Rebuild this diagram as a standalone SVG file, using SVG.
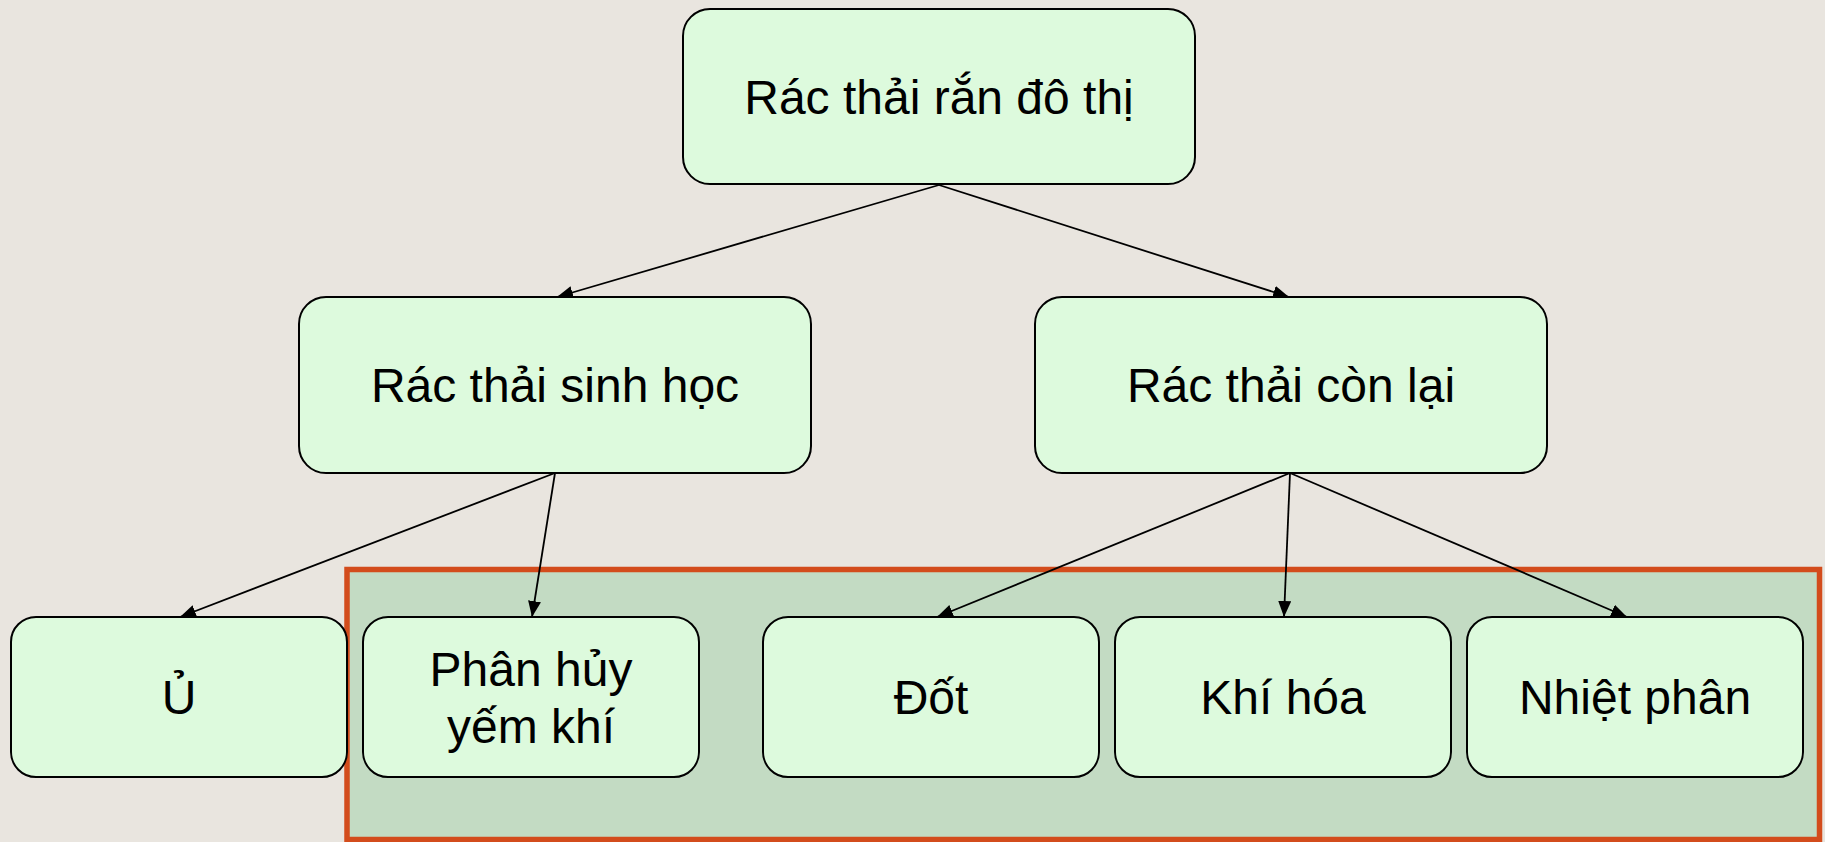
<svg xmlns="http://www.w3.org/2000/svg" width="1825" height="842" viewBox="0 0 1825 842">
  <style>
    .box { fill: #DDFADD; stroke: #000; stroke-width: 2; }
    .lbl { font-family: "Liberation Sans", Arial, sans-serif; font-size: 48px; fill: #000; text-anchor: middle; }
    .edge { stroke: #000; stroke-width: 1.8; fill: none; marker-end: url(#arrow); }
  </style>
  <defs>
    <marker id="arrow" markerUnits="userSpaceOnUse" markerWidth="18" markerHeight="14" refX="16" refY="6.5" orient="auto">
      <path d="M0,0 L16,6.5 L0,13 z" fill="#000"/>
    </marker>
  </defs>
  <rect x="0" y="0" width="1825" height="842" fill="#E9E5DF"/>
  <rect id="highlight" x="347" y="569.5" width="1472.5" height="270" fill="#C3DBC3" stroke="#D34C1C" stroke-width="5.5"/>

  <g id="connectors">
    <line class="edge" x1="939" y1="185" x2="557" y2="297"/>
    <line class="edge" x1="939" y1="185" x2="1289" y2="297"/>
    <line class="edge" x1="555" y1="473" x2="180" y2="617"/>
    <line class="edge" x1="555" y1="473" x2="532" y2="617"/>
    <line class="edge" x1="1290" y1="473" x2="937" y2="617"/>
    <line class="edge" x1="1290" y1="473" x2="1284" y2="617"/>
    <line class="edge" x1="1290" y1="473" x2="1627" y2="617"/>
  </g>

  <g id="node-root">
    <rect class="box" x="683" y="9" width="512" height="175" rx="27"/>
    <text class="lbl" x="939" y="114">Rác thải rắn đô thị</text>
  </g>
  <g id="node-bio">
    <rect class="box" x="299" y="297" width="512" height="176" rx="27"/>
    <text class="lbl" x="555" y="402">Rác thải sinh học</text>
  </g>
  <g id="node-rest">
    <rect class="box" x="1035" y="297" width="512" height="176" rx="27"/>
    <text class="lbl" x="1291" y="402">Rác thải còn lại</text>
  </g>
  <g id="node-u">
    <rect class="box" x="11" y="617" width="336" height="160" rx="25"/>
    <text class="lbl" x="179" y="714">Ủ</text>
  </g>
  <g id="node-anaerobic">
    <rect class="box" x="363" y="617" width="336" height="160" rx="25"/>
    <text class="lbl" x="531" y="686">Phân hủy</text>
    <text class="lbl" x="531" y="743">yếm khí</text>
  </g>
  <g id="node-burn">
    <rect class="box" x="763" y="617" width="336" height="160" rx="25"/>
    <text class="lbl" x="931" y="714">Đốt</text>
  </g>
  <g id="node-gasify">
    <rect class="box" x="1115" y="617" width="336" height="160" rx="25"/>
    <text class="lbl" x="1283" y="714">Khí hóa</text>
  </g>
  <g id="node-pyrolysis">
    <rect class="box" x="1467" y="617" width="336" height="160" rx="25"/>
    <text class="lbl" x="1635" y="714">Nhiệt phân</text>
  </g>
</svg>
